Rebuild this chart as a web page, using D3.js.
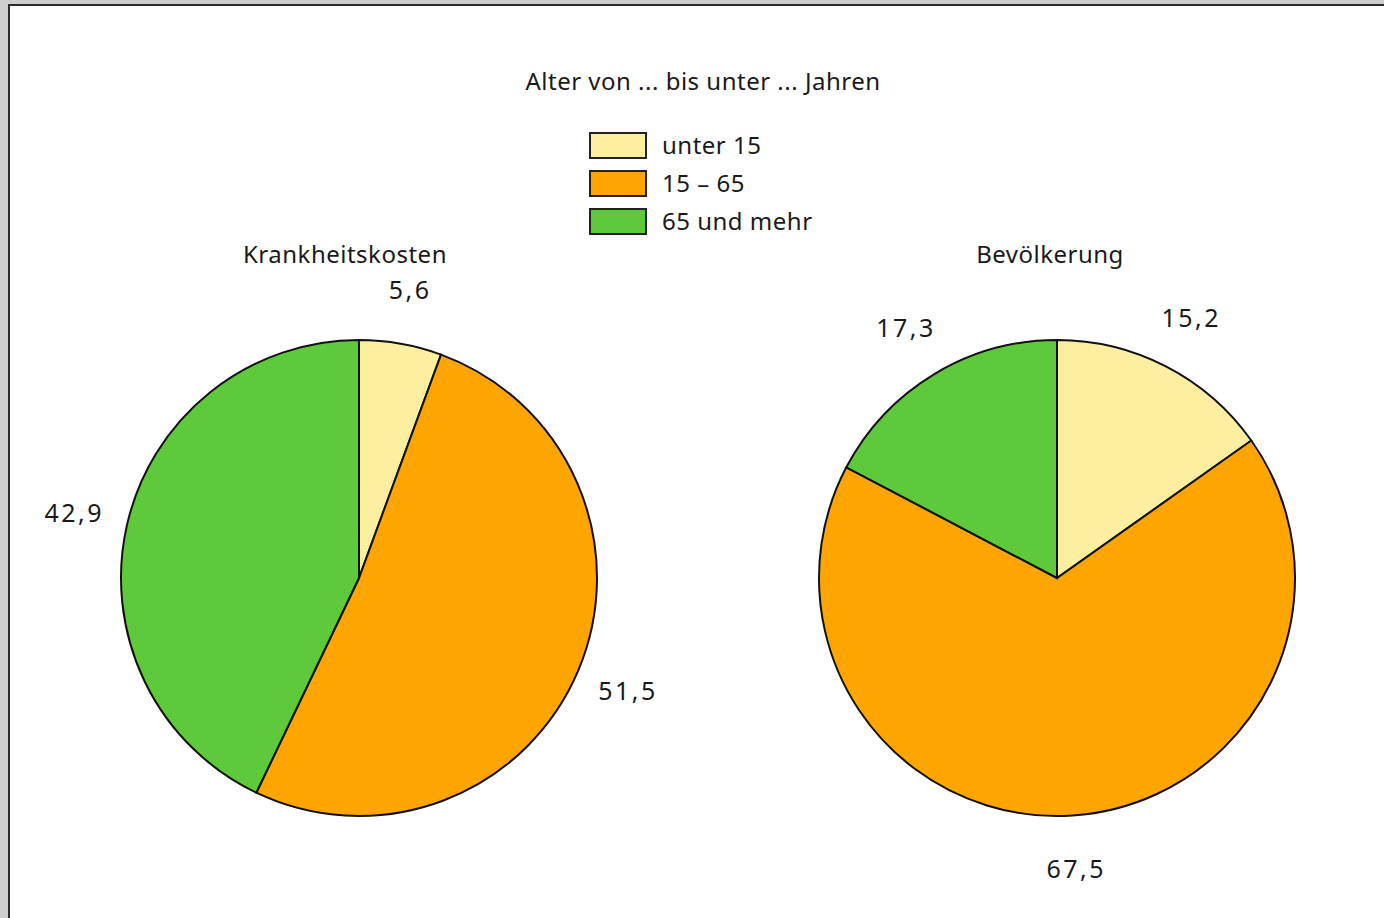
<!DOCTYPE html>
<meta charset="utf-8">
<style>
  html, body {
    margin: 0;
    padding: 0;
    background: #cdcdcd;
  }
  #chart {
    width: 1384px;
    height: 918px;
  }
  text {
    font-family: "Noto Sans", sans-serif;
    fill: #1a1a1a;
  }
  path.slice {
    stroke: #111;
    stroke-width: 2;
  }
  rect.key {
    stroke: #222;
    stroke-width: 2;
  }
</style>

<body>

  <div id="chart"></div>

  <script src="https://cdnjs.cloudflare.com/ajax/libs/d3/7.8.5/d3.min.js"></script>

  <script>

    var ageGroups = ["unter 15", "15 – 65", "65 und mehr"],
        groupColors = ["#fdeea0", "#ffa500", "#5dc93b"],
        pieTitles = ["Krankheitskosten", "Bevölkerung"],
        costValues = [5.6, 51.5, 42.9],
        popValues = [15.2, 67.5, 17.3],
        legendTitle = "Alter von ... bis unter ... Jahren";

    var width = 1384,
        height = 918,
        radius = 238,
        labelRadius = 292,
        centers = [[359, 578], [1057, 578]],
        titlePos = [[345, 255], [1050, 255]];

    var svg = d3.select("#chart").append("svg")
                .attr("width", width)
                .attr("height", height);

    // white page with dark frame, open to the right and bottom
    svg.append("rect")
        .attr("x", 9)
        .attr("y", 5)
        .attr("width", width)
        .attr("height", height)
        .attr("fill", "#fff")
        .attr("stroke", "#2b2b2b")
        .attr("stroke-width", 2);

    var color = d3.scaleOrdinal()
                  .domain(ageGroups)
                  .range(groupColors);

    var pie = d3.pie()
                .sort(null)
                .value(function(d) { return d.value; });

    var arc = d3.arc()
                .innerRadius(0)
                .outerRadius(radius);

    var labelArc = d3.arc()
                .innerRadius(labelRadius)
                .outerRadius(labelRadius);

    var fmt = function(v) { return d3.format(".1f")(v).replace(".", ","); };

    [costValues, popValues].forEach(function(values, k) {
      var data = values.map(function(v, i) {
        return {group: ageGroups[i], value: v};
      });

      var g = svg.append("g")
                  .attr("transform", "translate(" + centers[k][0] + "," + centers[k][1] + ")");

      var arcs = pie(data);

      g.selectAll("path.slice")
          .data(arcs)
        .enter().append("path")
          .attr("class", "slice")
          .attr("d", arc)
          .attr("fill", function(d) { return color(d.data.group); });

      g.selectAll("text.val")
          .data(arcs)
        .enter().append("text")
          .attr("class", "val")
          .attr("transform", function(d) {
            return "translate(" + labelArc.centroid(d) + ")";
          })
          .attr("text-anchor", "middle")
          .attr("dy", "0.35em")
          .style("font-size", "25px")
          .style("letter-spacing", "2.5px")
          .text(function(d) { return fmt(d.data.value); });

      svg.append("text")
          .attr("x", titlePos[k][0])
          .attr("y", titlePos[k][1])
          .attr("text-anchor", "middle")
          .attr("dy", "0.35em")
          .style("font-size", "24px")
          .style("letter-spacing", "0.5px")
          .text(pieTitles[k]);
    });

    // legend
    svg.append("text")
        .attr("x", 703)
        .attr("y", 82)
        .attr("text-anchor", "middle")
        .attr("dy", "0.35em")
        .style("font-size", "24px")
        .style("letter-spacing", "0.5px")
        .text(legendTitle);

    var legend = svg.selectAll("g.legend")
                    .data(ageGroups)
                  .enter().append("g")
                    .attr("class", "legend")
                    .attr("transform", function(d, i) {
                      return "translate(590," + (133 + i * 38) + ")";
                    });

    legend.append("rect")
        .attr("class", "key")
        .attr("width", 56)
        .attr("height", 25)
        .attr("fill", function(d) { return color(d); });

    legend.append("text")
        .attr("x", 72)
        .attr("y", 13)
        .attr("dy", "0.35em")
        .style("font-size", "24px")
        .style("letter-spacing", "0.5px")
        .text(function(d) { return d; });

  </script>

</body>
